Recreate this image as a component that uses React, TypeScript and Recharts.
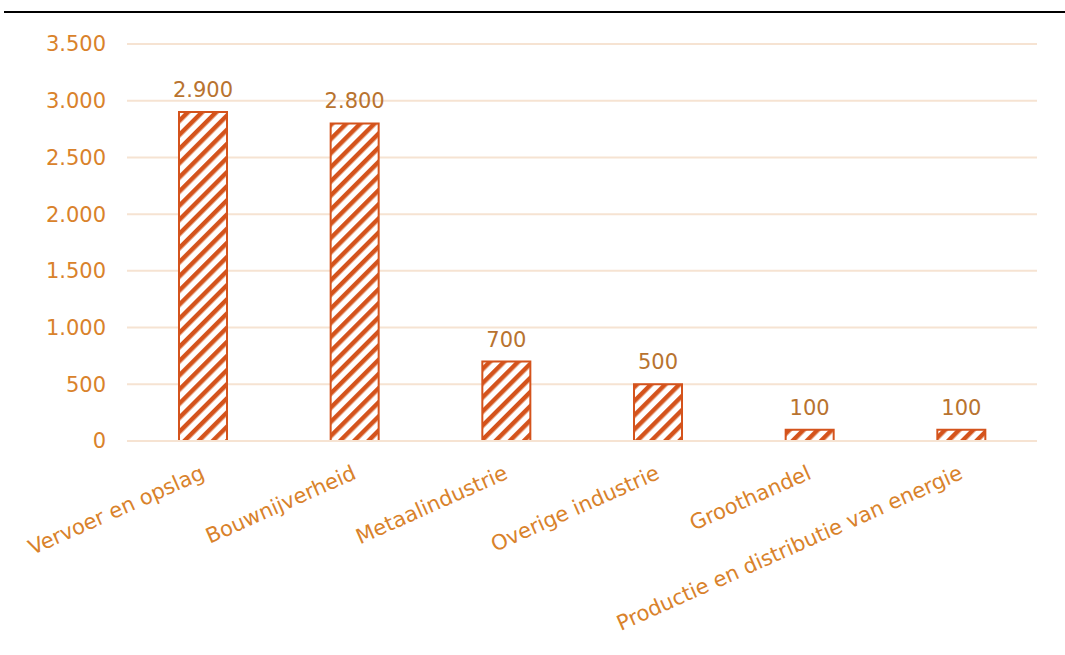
import { BarChart, Bar, XAxis, YAxis, CartesianGrid, LabelList } from 'recharts'

const categories = [
  'Vervoer en opslag',
  'Bouwnijverheid',
  'Metaalindustrie',
  'Overige industrie',
  'Groothandel',
  'Productie en distributie van energie',
]
const values = [2900, 2800, 700, 500, 100, 100]
const yTicks = [0, 500, 1000, 1500, 2000, 2500, 3000, 3500]

const data = categories.map((name, i) => ({ name, value: values[i] }))

const fmt = (v: number) => v.toLocaleString('de-DE')

const FONT = '"DejaVu Sans", Verdana, sans-serif'
const BAR = '#D4531C'
const TICK = '#D9822B'
const LABEL = '#B8732F'

const CategoryTick = ({ x, y, payload }: any) => (
  <text
    x={x + 3}
    y={y + 29}
    transform={`rotate(-24, ${x + 3}, ${y + 29})`}
    textAnchor="end"
    fill={TICK}
    fontSize={21}
    fontFamily={FONT}
  >
    {payload.value}
  </text>
)

export default function App() {
  return (
    <div style={{ position: 'absolute', left: 0, top: 0, width: 1065, height: 655, background: '#fff' }}>
      {/* zwarte lijn bovenaan */}
      <div style={{ position: 'absolute', left: 4, top: 11, width: 1061, height: 2, background: '#000' }} />
      <BarChart
        width={1065}
        height={655}
        data={data}
        margin={{ top: 44, right: 28, left: 0, bottom: 0 }}
        barSize={48}
      >
        <defs>
          <pattern
            id="stripes"
            patternUnits="userSpaceOnUse"
            width={10}
            height={10}
            patternTransform="rotate(45)"
          >
            <rect x={0} y={0} width={10} height={10} fill="#fff" />
            <rect x={0} y={0} width={4.5} height={10} fill={BAR} />
          </pattern>
        </defs>
        <CartesianGrid vertical={false} stroke="#F6E3D2" strokeWidth={2} />
        <XAxis
          dataKey="name"
          interval={0}
          height={214}
          axisLine={{ stroke: '#F6E3D2', strokeWidth: 2 }}
          tickLine={false}
          tick={<CategoryTick />}
        />
        <YAxis
          domain={[0, 3500]}
          ticks={yTicks}
          width={127}
          axisLine={false}
          tickLine={false}
          tickSize={0}
          tickMargin={21}
          tickFormatter={fmt}
          tick={{ fill: TICK, fontSize: 21, fontFamily: FONT }}
        />
        <Bar
          dataKey="value"
          fill="url(#stripes)"
          stroke={BAR}
          strokeWidth={2}
          isAnimationActive={false}
        >
          <LabelList
            dataKey="value"
            position="top"
            offset={15}
            formatter={(v: any) => fmt(v)}
            style={{ fill: LABEL, fontSize: 21, fontFamily: FONT }}
          />
        </Bar>
      </BarChart>
    </div>
  )
}
